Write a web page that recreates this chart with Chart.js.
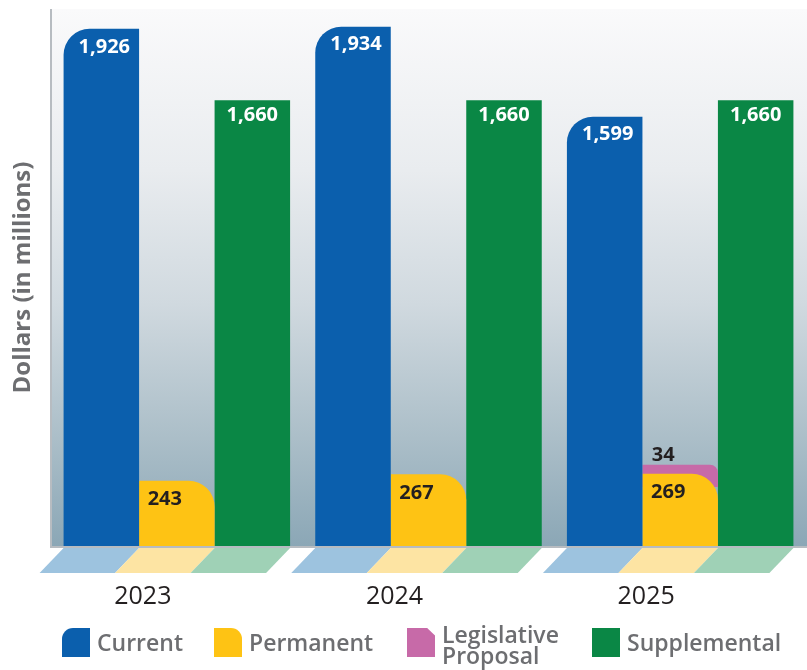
<!DOCTYPE html>
<html>
<head>
<meta charset="utf-8">
<script src="https://cdn.jsdelivr.net/npm/chart.js@4.4.1/dist/chart.umd.min.js"></script>
<style>
  html, body { margin: 0; padding: 0; background: #fff; }
  #wrap { position: relative; width: 807px; height: 670px; }
  #legend { position: absolute; left: 0; top: 0; width: 807px; height: 670px; pointer-events: none; font-family: 'Open Sans', sans-serif; }
  .item { position: absolute; top: 628px; display: flex; align-items: flex-start; }
  .swatch { width: 28px; height: 29px; flex: none; }
  .txt { margin-left: 7px; font-size: 23px; font-weight: 600; color: #6d6e71; line-height: 28px; white-space: nowrap; }
  .txt.two { line-height: 21px; margin-top: -4px; white-space: normal; width: 130px; }
</style>
</head>
<body>
<div id="wrap">
  <canvas id="c" width="807" height="670"></canvas>
  <div id="legend"></div>
</div>
<script>
const years = ['2023', '2024', '2025'];
const current = [1926, 1934, 1599];
const permanent = [243, 267, 269];
const legislative = [null, null, 34];
const supplemental = [1660, 1660, 1660];

Chart.defaults.font.family = "'Open Sans', sans-serif";

// gradient panel, border lines and the slanted "floor" under each bar
const panelPlugin = {
  id: 'panel',
  beforeDatasetsDraw(chart) {
    const { ctx, chartArea: a, width } = chart;
    ctx.save();
    const g = ctx.createLinearGradient(0, a.top, 0, a.bottom);
    g.addColorStop(0, '#fafafb');
    g.addColorStop(0.3, '#e9ecef');
    g.addColorStop(0.55, '#d0d9df');
    g.addColorStop(0.8, '#abbec8');
    g.addColorStop(1, '#8ba7b6');
    ctx.fillStyle = g;
    ctx.fillRect(a.left, a.top, width - a.left, a.bottom - a.top);
    ctx.fillStyle = '#b7bcc1';
    ctx.fillRect(a.left - 1, a.top, 2, a.bottom - a.top + 2);
    ctx.fillRect(a.left - 1, a.bottom, width - a.left + 1, 2);

    chart.data.datasets.forEach((ds, i) => {
      if (!ds.floorColor) return;
      chart.getDatasetMeta(i).data.forEach((bar, j) => {
        if (ds.data[j] == null) return;
        const l = bar.x - bar.width / 2, r = bar.x + bar.width / 2;
        const t = a.bottom + 2, b = a.bottom + 27, s = 24;
        ctx.fillStyle = ds.floorColor;
        ctx.beginPath();
        ctx.moveTo(l, t);
        ctx.lineTo(r, t);
        ctx.lineTo(r - s, b);
        ctx.lineTo(l - s, b);
        ctx.closePath();
        ctx.fill();
      });
    });
    ctx.restore();
  }
};

const valuePlugin = {
  id: 'values',
  afterDatasetsDraw(chart) {
    const { ctx } = chart;
    ctx.save();
    ctx.font = "bold 20px 'Open Sans', sans-serif";
    ctx.textAlign = 'center';
    ctx.textBaseline = 'middle';
    chart.data.datasets.forEach((ds, i) => {
      chart.getDatasetMeta(i).data.forEach((bar, j) => {
        const v = ds.data[j];
        if (v == null) return;
        ctx.fillStyle = ds.labelColor;
        ctx.fillText(v.toLocaleString('en-US'), bar.x + ds.labelDx, bar.y + ds.labelDy);
      });
    });
    ctx.restore();
  }
};

const chart = new Chart(document.getElementById('c'), {
  type: 'bar',
  data: {
    labels: years,
    datasets: [
      {
        label: 'Current',
        data: current,
        stack: 'a',
        backgroundColor: '#0b5fad',
        floorColor: '#9dc3df',
        borderRadius: { topLeft: 26, topRight: 0, bottomLeft: 0, bottomRight: 0 },
        labelColor: '#fff', labelDx: 3, labelDy: 18,
        swatch: { borderTopLeftRadius: '11px' },
      },
      {
        label: 'Permanent',
        data: permanent,
        stack: 'b',
        backgroundColor: '#fec314',
        floorColor: '#fde4a3',
        borderRadius: { topLeft: 0, topRight: 26, bottomLeft: 0, bottomRight: 0 },
        labelColor: '#231f20', labelDx: -12, labelDy: 19,
        swatch: { borderTopRightRadius: '11px' },
      },
      {
        label: 'Legislative Proposal',
        data: legislative,
        stack: 'b',
        base: 220,
        backgroundColor: '#c76aa8',
        borderRadius: { topLeft: 0, topRight: 8, bottomLeft: 0, bottomRight: 0 },
        labelColor: '#231f20', labelDx: -17, labelDy: -9,
        swatch: { clipPath: 'polygon(0 0, 72% 0, 100% 26%, 100% 100%, 0 100%)' },
      },
      {
        label: 'Supplemental',
        data: supplemental,
        stack: 'c',
        backgroundColor: '#0a8745',
        floorColor: '#9fd1b6',
        borderRadius: 0,
        labelColor: '#fff', labelDx: 0, labelDy: 15,
        swatch: {},
      },
    ],
  },
  options: {
    responsive: false,
    animation: false,
    events: [],
    layout: { padding: { top: 9, right: 1, left: 0, bottom: 0 } },
    datasets: { bar: { barPercentage: 1, categoryPercentage: 0.9, borderSkipped: 'start' } },
    plugins: { legend: { display: false }, tooltip: { enabled: false } },
    scales: {
      x: {
        stacked: true,
        grid: { display: false, drawTicks: false },
        border: { display: false },
        ticks: { color: '#231f20', font: { size: 25 }, padding: 36, labelOffset: -34 },
        afterFit: s => { s.height = 124; },
      },
      y: {
        stacked: true,
        min: 0,
        max: 2000,
        grid: { display: false, drawTicks: false },
        border: { display: false },
        ticks: { display: false },
        title: {
          display: true,
          text: 'Dollars (in millions)',
          color: '#6d6e71',
          font: { size: 24, weight: 'bold' },
          padding: { top: 9, bottom: 0 },
        },
        afterFit: s => { s.width = 51; },
      },
    },
  },
  plugins: [panelPlugin, valuePlugin],
});

// legend built from the datasets
const legendX = [62, 214, 407, 592];
const legend = document.getElementById('legend');
chart.data.datasets.forEach((ds, i) => {
  const item = document.createElement('div');
  item.className = 'item';
  item.style.left = legendX[i] + 'px';
  const sw = document.createElement('div');
  sw.className = 'swatch';
  sw.style.background = ds.backgroundColor;
  Object.assign(sw.style, ds.swatch);
  const tx = document.createElement('div');
  tx.className = ds.label.includes(' ') ? 'txt two' : 'txt';
  tx.textContent = ds.label;
  item.appendChild(sw);
  item.appendChild(tx);
  legend.appendChild(item);
});
</script>
</body>
</html>
